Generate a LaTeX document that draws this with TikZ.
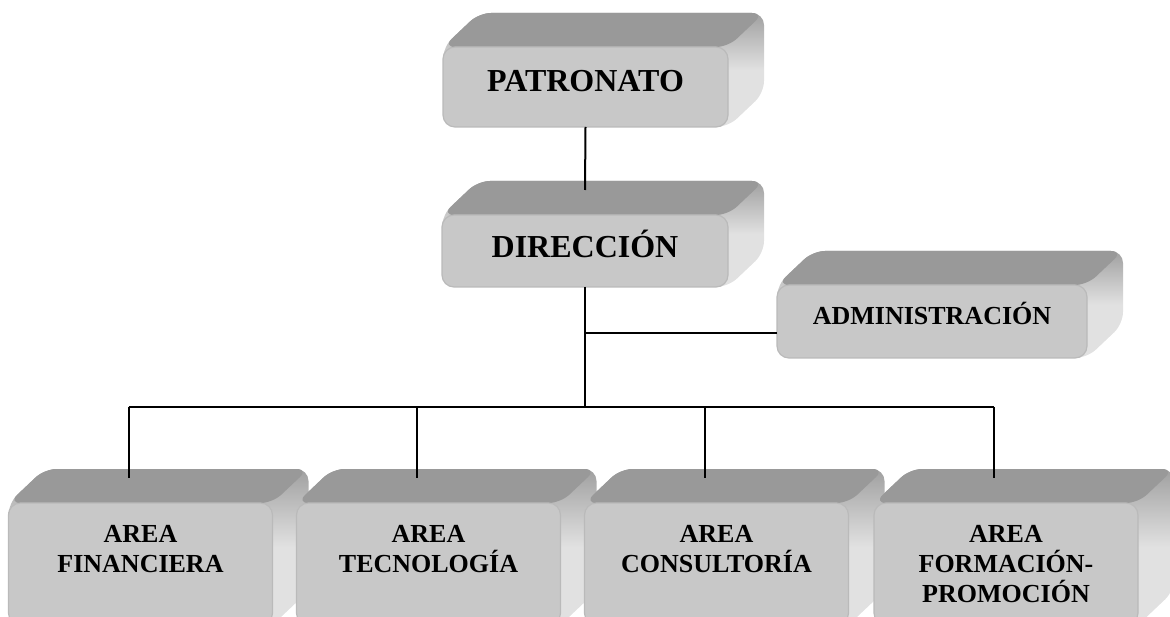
\documentclass[tikz,border=0pt]{standalone}
\usepackage{fontspec}
\setmainfont{Liberation Serif}
\usetikzlibrary{backgrounds}
\definecolor{frontgray}{RGB}{200, 200, 200}
\definecolor{rimgray}{RGB}{186, 186, 186}
\definecolor{topgray}{RGB}{153, 153, 153}
\definecolor{sidedark}{RGB}{160, 160, 160}
\definecolor{sidelight}{RGB}{225, 225, 225}

\begin{document}
\begin{tikzpicture}[x=1pt, y=-1pt,
        caja/.style={rectangle, rounded corners=12pt, fill=frontgray, draw=rimgray, line width=1.2pt,
                     inner sep=0pt, outer sep=0pt, align=center},
        grande/.style={font=\bfseries\fontsize{32}{36}\selectfont, text height=21pt},
        area/.style={caja, minimum width=264pt, minimum height=122pt, font=\bfseries\fontsize{26}{30}\selectfont},
        conector/.style={draw=black, line width=2pt}]
            \useasboundingbox (0,0) rectangle (1170,617);
            \node[caja, grande, minimum width=285pt, minimum height=80pt, text depth=12pt] (pat) at ( 585.5,  87.0) {PATRONATO};
            \node[caja, grande, minimum width=286pt, minimum height=72pt, text depth=8pt]  (dir) at ( 585.0, 251.0) {DIRECCIÓN};
            \node[caja, minimum width=310pt, minimum height=73pt, text height=17pt, text depth=11pt,
                  font=\bfseries\fontsize{26}{30}\selectfont]                                (adm) at ( 932.0, 321.5) {ADMINISTRACIÓN};
            \node[area] (fin) at ( 140.5, 564.0) {AREA\\FINANCIERA\\\mbox{}};
            \node[area] (tec) at ( 428.5, 564.0) {AREA\\TECNOLOGÍA\\\mbox{}};
            \node[area] (con) at ( 716.5, 564.0) {AREA\\CONSULTORÍA\\\mbox{}};
            \node[area] (frm) at (1006.0, 564.0) {AREA\\FORMACIÓN-\\PROMOCIÓN};
            \begin{pgfonlayer}{background}
                \foreach \n in {pat,dir,adm,fin,tec,con,frm}{
                    \shade[top color=sidedark, bottom color=sidelight, middle color=sidelight, rounded corners=12pt]
                        (\n.south west) -- (\n.north west) -- ++(36,-34) -- ([shift={(36,-34)}]\n.north east)
                        -- ([shift={(36,-34)}]\n.south east) -- (\n.south east) -- cycle;
                    \fill[topgray, rounded corners=12pt]
                        (\n.north west) -- ++(36,-34) -- ([shift={(36,-34)}]\n.north east) -- (\n.north east) -- cycle;
                }
            \end{pgfonlayer}
            \coordinate (bus)   at ([yshift=-120pt]dir.south);
            \coordinate (ramal) at ([yshift=-12pt]adm.west);
            \draw[conector] (pat.south) -- ([yshift=25pt]dir.north);
            \draw[conector] (dir.south) -- (bus);
            \draw[conector] (ramal) -- (ramal -| dir.south);
            \foreach \n in {fin,tec,con,frm}{
                \coordinate (\n-top) at ([xshift=-12pt, yshift=25pt]\n.north);
                \draw[conector] (\n-top |- bus) -- (\n-top);
            }
            \draw[conector] (fin-top |- bus) -- (frm-top |- bus);
\end{tikzpicture}
\end{document}
